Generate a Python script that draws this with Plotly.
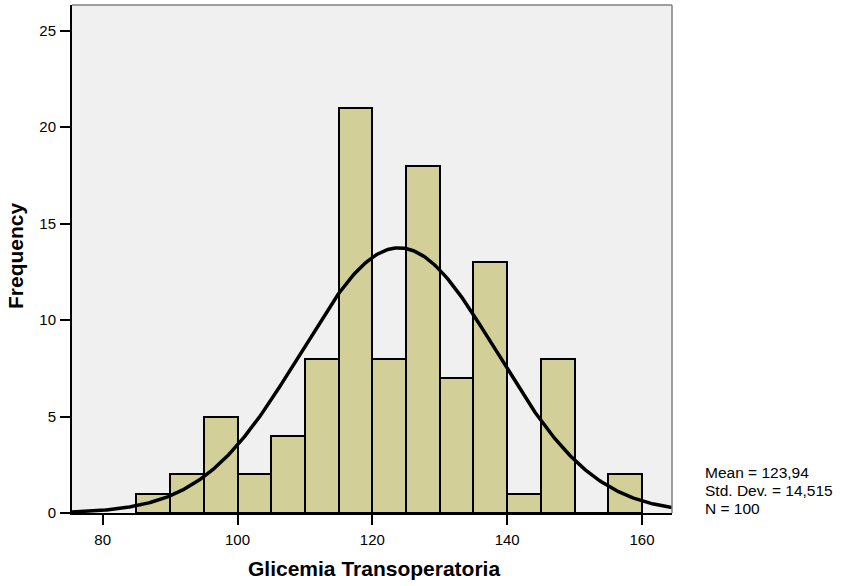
import numpy as np
import plotly.graph_objects as go

bin_starts = [85, 90, 95, 100, 105, 110, 115, 120, 125, 130, 135, 140, 145, 150, 155]
frequencies = [1, 2, 5, 2, 4, 8, 21, 8, 18, 7, 13, 1, 8, 0, 2]
bin_width = 5
mean_val = 123.94
std_val = 14.515
n_val = 100
x_ticks = [80, 100, 120, 140, 160]
y_ticks = [0, 5, 10, 15, 20, 25]
stats_lines = ["Mean = 123,94", "Std. Dev. = 14,515", "N = 100"]
x_title = "Glicemia Transoperatoria"
y_title = "Frequency"

x_range = [75.45, 164.45]
y_range = [0, 26.33]

centers = [s + bin_width / 2 for s in bin_starts]

# fitted normal curve from the displayed statistics
xc = np.linspace(x_range[0], x_range[1], 400)
yc = n_val * bin_width * np.exp(-0.5 * ((xc - mean_val) / std_val) ** 2) / (std_val * np.sqrt(2 * np.pi))

font_family = "Liberation Sans, Arial, Helvetica, sans-serif"

fig = go.Figure()
fig.add_trace(go.Bar(
    x=centers, y=frequencies, width=[bin_width] * len(centers),
    marker=dict(color="#d3cf99", line=dict(color="black", width=2)),
    hoverinfo="x+y", showlegend=False,
))
fig.add_trace(go.Scatter(
    x=xc, y=yc, mode="lines", line=dict(color="black", width=3.5),
    showlegend=False, hoverinfo="skip",
))

fig.update_layout(
    width=847, height=586,
    margin=dict(l=72, r=175, t=5, b=73),
    paper_bgcolor="white", plot_bgcolor="#f0f0f0",
    font=dict(family=font_family, size=15, color="black"),
    bargap=0,
    xaxis=dict(
        range=x_range, tickvals=x_ticks, ticks="outside", ticklen=10, tickwidth=2,
        tickcolor="black", showline=True, linecolor="black", linewidth=2,
        showgrid=False, zeroline=False, automargin=False,
        tickfont=dict(size=15), ticklabelstandoff=2,
    ),
    yaxis=dict(
        range=y_range, tickvals=y_ticks, ticks="outside", ticklen=10, tickwidth=2,
        tickcolor="black", showline=True, linecolor="black", linewidth=2,
        showgrid=False, zeroline=False, automargin=False,
        tickfont=dict(size=15), ticklabelstandoff=1,
    ),
    shapes=[
        dict(type="line", xref="paper", yref="paper", x0=0, x1=1, y0=1, y1=1,
             line=dict(color="#808080", width=1.5)),
        dict(type="line", xref="paper", yref="paper", x0=1, x1=1, y0=0, y1=1,
             line=dict(color="#808080", width=1.5)),
    ],
)

fig.add_annotation(text="<b>" + x_title + "</b>", xref="paper", yref="paper",
                   x=0.503, y=-0.110, xanchor="center", yanchor="middle",
                   showarrow=False, font=dict(size=21, family=font_family))
fig.add_annotation(text="<b>" + y_title + "</b>", xref="paper", yref="paper",
                   x=-0.0933, y=0.506, xanchor="center", yanchor="middle",
                   textangle=-90, showarrow=False, font=dict(size=21, family=font_family))

ys = [0.0807, 0.0443, 0.0083]
for txt, yy in zip(stats_lines, ys):
    fig.add_annotation(text=txt, xref="paper", yref="paper", x=1.051, y=yy,
                       xanchor="left", yanchor="middle", showarrow=False,
                       font=dict(size=15.5, family=font_family))

fig.write_html("out.html", config={"displayModeBar": False},
               post_script="document.body.style.margin='0';")
